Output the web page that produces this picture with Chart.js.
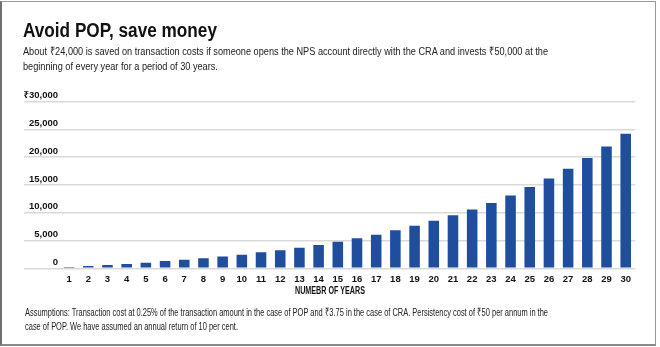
<!DOCTYPE html>
<html>
<head>
<meta charset="utf-8">
<script src="https://cdn.jsdelivr.net/npm/chart.js@4/dist/chart.umd.min.js"></script>
<style>
  html, body { margin: 0; padding: 0; background: #fff; }
  #frame {
    position: absolute; left: 0; top: 1px; width: 653px; height: 342px;
    border-left: 2px solid #707070; border-top: 1px solid #9a9a9a;
    border-right: 1px solid #9a9a9a; border-bottom: 2px solid #8a8a8a;
  }
  #wrap { position: absolute; left: 0; top: 0; width: 660px; height: 347px; }
  canvas { position: absolute; left: 0; top: 0; }
  .txt { position: absolute; font-family: "Liberation Sans", Arial, sans-serif; white-space: nowrap; transform-origin: 0 0; }
  .txt span { display: inline-block; }
  #title { left: 23px; top: 20.4px; font-size: 20px; line-height: 20px; font-weight: bold; color: #111; }
  #sub { left: 23px; top: 44px; font-size: 11.5px; line-height: 14.5px; color: #222; }
  #note { left: 25px; top: 305.2px; font-size: 11.5px; line-height: 14.3px; color: #222; }
  #xtitle { left: 295px; top: 285.5px; font-size: 10px; line-height: 10px; font-weight: bold; color: #111; }
</style>
</head>
<body>
<div id="wrap">
  <div id="frame"></div>
  <canvas id="chart" width="660" height="347"></canvas>
  <div id="title" class="txt"><span>Avoid POP, save money</span></div>
  <div id="sub" class="txt"><span>About ₹24,000 is saved on transaction costs if someone opens the NPS account directly with the CRA and invests ₹50,000 at the</span><br>beginning of every year for a period of 30 years.</div>
  <div id="note" class="txt"><span>Assumptions: Transaction cost at 0.25% of the transaction amount in the case of POP and ₹3.75 in the case of CRA. Persistency cost of ₹50 per annum in the</span><br>case of POP. We have assumed an annual return of 10 per cent.</div>
  <div id="xtitle" class="txt"><span>NUMEBR OF YEARS</span></div>
</div>
<script>
// Years 1..30
const years = ['1','2','3','4','5','6','7','8','9','10','11','12','13','14','15',
               '16','17','18','19','20','21','22','23','24','25','26','27','28','29','30'];

// Cumulative saving (₹) by year
const savings = [230, 410, 590, 790, 1010, 1300, 1550, 1810, 2120, 2460,
                 2880, 3260, 3710, 4200, 4790, 5400, 6060, 6850, 7640, 8540,
                 9560, 10600, 11780, 13100, 14620, 16170, 17910, 19850, 21950, 24250];

// Value-axis ticks and their printed labels
const yTickValues = [0, 5000, 10000, 15000, 20000, 25000, 30000];
const yTickLabels = ['0', '5,000', '10,000', '15,000', '20,000', '25,000', '₹30,000'];

// Condensed look for the HTML text: squeeze each block horizontally to its line width
function condense(id, width, centerX) {
  const el = document.getElementById(id);
  const w = el.querySelector('span').getBoundingClientRect().width;
  const s = width / w;
  el.style.transform = 'scaleX(' + s + ')';
  if (centerX !== undefined) el.style.left = (centerX - width / 2) + 'px';
}
condense('title', 194);
condense('sub', 525);
condense('note', 523);
condense('xtitle', 70, 330);

const tickFont = { family: '"Liberation Sans", "Noto Sans", sans-serif', size: 9.5, weight: 'bold' };

new Chart(document.getElementById('chart'), {
  type: 'bar',
  data: {
    labels: years,
    datasets: [{
      data: savings,
      backgroundColor: '#1f4e9e',
      borderWidth: 0,
      barPercentage: 0.55,
      categoryPercentage: 1.0
    }]
  },
  options: {
    responsive: false,
    animation: false,
    layout: { padding: { left: 0, right: 24.7, top: 101.7, bottom: 63.4 } },
    plugins: {
      legend: { display: false },
      tooltip: { enabled: false }
    },
    scales: {
      x: {
        grid: { display: false, drawTicks: false },
        border: { display: false },
        ticks: { color: '#111', font: tickFont, padding: 5.5, maxRotation: 0, autoSkip: false },
        afterFit: s => { s.height = 15.3; }
      },
      y: {
        min: 0,
        max: 30000,
        afterBuildTicks: s => { s.ticks = yTickValues.map(v => ({ value: v })); },
        grid: { color: '#d9d9d9', lineWidth: 1.5, drawTicks: true, tickLength: 35.5 },
        border: { display: false },
        ticks: {
          color: '#111',
          font: tickFont,
          padding: -34,
          labelOffset: -6,
          callback: (v) => yTickLabels[yTickValues.indexOf(v)]
        },
        afterFit: s => { s.width = 59.5; }
      }
    }
  }
});
</script>
</body>
</html>
